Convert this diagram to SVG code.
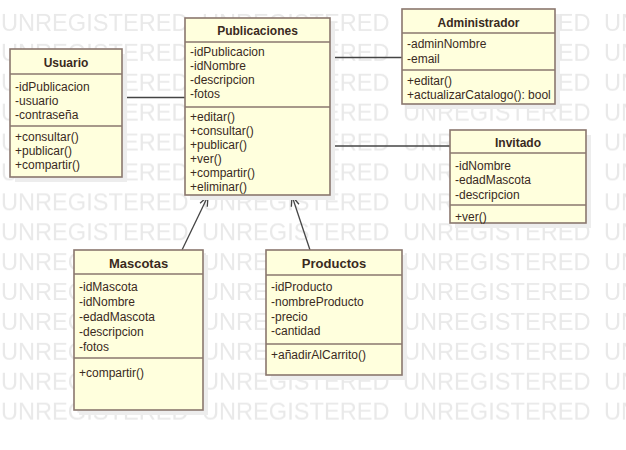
<svg xmlns="http://www.w3.org/2000/svg" width="626" height="450" viewBox="0 0 626 450">
  <defs>
    <style>
      .wm { font-family: "Liberation Sans", Arial, sans-serif; font-size: 23.6px; fill: #e9e9e9; }
      .box { fill: #ffffdd; stroke: #8a776e; stroke-width: 1.6; }
      .shadow { fill: #ededed; }
      .div { stroke: #8a776e; stroke-width: 1.6; }
      .title { font-family: "Liberation Sans", Arial, sans-serif; font-weight: bold; font-size: 12px; fill: #3a2a1e; text-anchor: middle; }
      .t13 { font-size: 13px; }
      .txt { font-family: "Liberation Sans", Arial, sans-serif; font-size: 12px; fill: #3a2a1e; }
      .conn { stroke: #444444; stroke-width: 1.3; fill: none; }
    </style>
    <pattern id="wmTile" patternUnits="userSpaceOnUse" x="1" y="6" width="201" height="29.9">
      <text class="wm" x="0" y="25">UNREGISTERED</text>
    </pattern>
    <marker id="openArrow" markerUnits="userSpaceOnUse" viewBox="0 0 12 10" markerWidth="12" markerHeight="10" refX="11" refY="5" orient="auto">
      <path d="M1,1 L11,5 L1,9" fill="none" stroke="#444444" stroke-width="1.3"/>
    </marker>
  </defs>

  <rect width="626" height="450" fill="#ffffff"/>
  <!-- background watermark rows -->
  <rect y="6" width="626" height="418" fill="url(#wmTile)"/>

  <!-- connectors -->
  <g id="connectors">
    <line class="conn" x1="122" y1="97.5" x2="185" y2="97.5"/>
    <line class="conn" x1="330" y1="57.5" x2="402" y2="57.5"/>
    <line class="conn" x1="330" y1="146" x2="450" y2="146"/>
    <line class="conn" x1="182" y1="250" x2="208" y2="196" marker-end="url(#openArrow)"/>
    <line class="conn" x1="310" y1="250" x2="292" y2="196" marker-end="url(#openArrow)"/>
  </g>

  <g id="usuario">
    <rect class="shadow" x="15" y="54" width="112" height="128"/>
    <rect class="box" x="10" y="49" width="112" height="128"/>
    <line class="div" x1="10" y1="74" x2="122" y2="74"/>
    <line class="div" x1="10" y1="126" x2="122" y2="126"/>
    <text class="title" x="66" y="66.5">Usuario</text>
    <text class="txt" x="15" y="90.5">-idPublicacion</text>
    <text class="txt" x="15" y="104.5">-usuario</text>
    <text class="txt" x="15" y="118.5">-contraseña</text>
    <text class="txt" x="15" y="140.5">+consultar()</text>
    <text class="txt" x="15" y="154.5">+publicar()</text>
    <text class="txt" x="15" y="168.5">+compartir()</text>
  </g>

  <g id="publicaciones">
    <rect class="shadow" x="190" y="23" width="145" height="177"/>
    <rect class="box" x="185" y="18" width="145" height="177"/>
    <line class="div" x1="185" y1="42" x2="330" y2="42"/>
    <line class="div" x1="185" y1="107" x2="330" y2="107"/>
    <text class="title" x="257.5" y="34.5">Publicaciones</text>
    <text class="txt" x="190" y="56">-idPublicacion</text>
    <text class="txt" x="190" y="70">-idNombre</text>
    <text class="txt" x="190" y="84">-descripcion</text>
    <text class="txt" x="190" y="98">-fotos</text>
    <text class="txt" x="190" y="120.5">+editar()</text>
    <text class="txt" x="190" y="134.5">+consultar()</text>
    <text class="txt" x="190" y="148.5">+publicar()</text>
    <text class="txt" x="190" y="162.5">+ver()</text>
    <text class="txt" x="190" y="176.5">+compartir()</text>
    <text class="txt" x="190" y="190.5">+eliminar()</text>
  </g>

  <g id="administrador">
    <rect class="shadow" x="407" y="14" width="153" height="95"/>
    <rect class="box" x="402" y="9" width="153" height="95"/>
    <line class="div" x1="402" y1="33" x2="555" y2="33"/>
    <line class="div" x1="402" y1="70" x2="555" y2="70"/>
    <text class="title" x="478.5" y="27">Administrador</text>
    <text class="txt" x="407" y="48">-adminNombre</text>
    <text class="txt" x="407" y="62.5">-email</text>
    <text class="txt" x="407" y="84.5">+editar()</text>
    <text class="txt" x="407" y="99">+actualizarCatalogo(): bool</text>
  </g>

  <g id="invitado">
    <rect class="shadow" x="455" y="135" width="136" height="93"/>
    <rect class="box" x="450" y="130" width="136" height="93"/>
    <line class="div" x1="450" y1="153" x2="586" y2="153"/>
    <line class="div" x1="450" y1="205" x2="586" y2="205"/>
    <text class="title" x="518" y="147">Invitado</text>
    <text class="txt" x="455" y="169.5">-idNombre</text>
    <text class="txt" x="455" y="184">-edadMascota</text>
    <text class="txt" x="455" y="198.5">-descripcion</text>
    <text class="txt" x="455" y="221">+ver()</text>
  </g>

  <g id="mascotas">
    <rect class="shadow" x="79" y="255" width="129" height="160"/>
    <rect class="box" x="74" y="250" width="129" height="160"/>
    <line class="div" x1="74" y1="274" x2="203" y2="274"/>
    <line class="div" x1="74" y1="358" x2="203" y2="358"/>
    <text class="title t13" x="138.5" y="267.5">Mascotas</text>
    <text class="txt t13" x="79" y="291">-idMascota</text>
    <text class="txt t13" x="79" y="305.5">-idNombre</text>
    <text class="txt t13" x="79" y="320.5">-edadMascota</text>
    <text class="txt t13" x="79" y="335.5">-descripcion</text>
    <text class="txt t13" x="79" y="350.5">-fotos</text>
    <text class="txt t13" x="79" y="377">+compartir()</text>
  </g>

  <g id="productos">
    <rect class="shadow" x="271" y="255" width="136" height="125"/>
    <rect class="box" x="266" y="250" width="136" height="125"/>
    <line class="div" x1="266" y1="275" x2="402" y2="275"/>
    <line class="div" x1="266" y1="344" x2="402" y2="344"/>
    <text class="title t13" x="334" y="267.5">Productos</text>
    <text class="txt t13" x="271" y="290.5">-idProducto</text>
    <text class="txt t13" x="271" y="305.5">-nombreProducto</text>
    <text class="txt t13" x="271" y="320.5">-precio</text>
    <text class="txt t13" x="271" y="335">-cantidad</text>
    <text class="txt t13" x="271" y="359">+añadirAlCarrito()</text>
  </g>
</svg>
